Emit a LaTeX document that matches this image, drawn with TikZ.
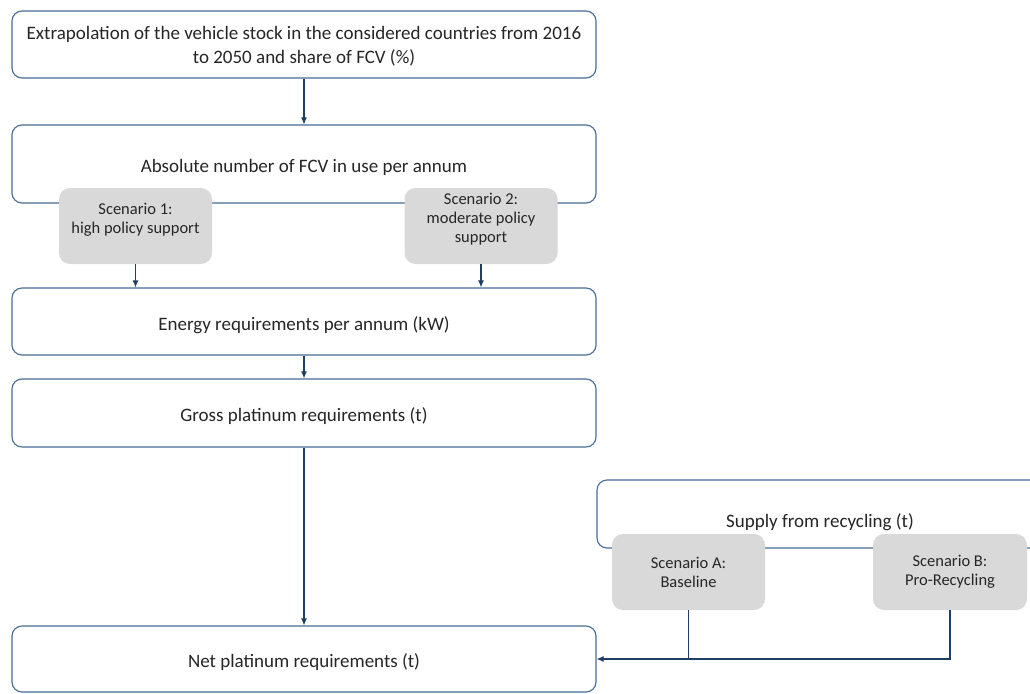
\documentclass[tikz,border=0pt]{standalone}
\usepackage{fontspec}
\setmainfont{Carlito}
\usetikzlibrary{arrows.meta}
\definecolor{boxblue}{RGB}{68,108,152}
\definecolor{arrowblue}{RGB}{31,62,100}
\definecolor{scengray}{RGB}{217,217,217}
\definecolor{txtgray}{RGB}{38,38,38}
\tikzset{
  whitebox/.style={draw=boxblue,line width=1.1pt,fill=white,rounded corners=10pt,
    minimum width=584pt,text=txtgray,font=\fontsize{19}{24}\selectfont,align=center,
    text depth=0pt},
  oneline/.style={text height=17pt},
  scenbox/.style={fill=scengray,rounded corners=11pt,minimum width=153pt,
    minimum height=76pt,text=txtgray,font=\fontsize{16.5}{19}\selectfont,align=center},
  flow/.style={draw=arrowblue,line width=1.1pt,-{Latex[length=7pt,width=6pt]}}
}
\begin{document}
\begin{tikzpicture}[x=1pt,y=-1pt]
\useasboundingbox (0,0) rectangle (1030,693);
\clip (0,0) rectangle (1030,693);
% main column
\node[whitebox,minimum height=67pt] (extrap) at (304,44.5)
  {Extrapolation of the vehicle stock in the considered countries from 2016\\to 2050 and share of FCV (\%)};
\node[whitebox,oneline,minimum height=78pt] (absnum) at (304,164) {Absolute number of FCV in use per annum};
\node[whitebox,oneline,minimum height=67pt] (energy) at (304,321.5) {Energy requirements per annum (kW)};
\node[whitebox,oneline,minimum height=68pt] (gross) at (304,413) {Gross platinum requirements (t)};
\node[whitebox,oneline,minimum height=66pt] (net) at (304,659) {Net platinum requirements (t)};
\node[whitebox,minimum width=446pt,minimum height=68pt,text height=27pt] (supply) at (820,514)
  {Supply from recycling (t)};
% scenarios
\node[scenbox,text depth=16pt] (sc1) at (135.5,226) {Scenario 1:\\high policy support};
\node[scenbox,text depth=16pt] (sc2) at (481,226) {Scenario 2:\\moderate policy\\support};
\node[scenbox] (scA) at (688.5,572) {Scenario A:\\Baseline};
\node[scenbox,minimum width=154pt] (scB) at (950,572) {Scenario B:\\Pro-Recycling};
% connectors
\draw[flow] (extrap) -- (absnum);
\foreach \s in {sc1,sc2}
  \draw[flow] (\s.south) -- (\s.south |- energy.north);
\draw[flow] (energy) -- (gross);
\draw[flow] (gross) -- (net);
\draw[draw=arrowblue,line width=1.1pt] (scA.south) -- (scA.south |- net.east);
\draw[flow] (scB.south) |- (net.east);
\end{tikzpicture}
\end{document}
